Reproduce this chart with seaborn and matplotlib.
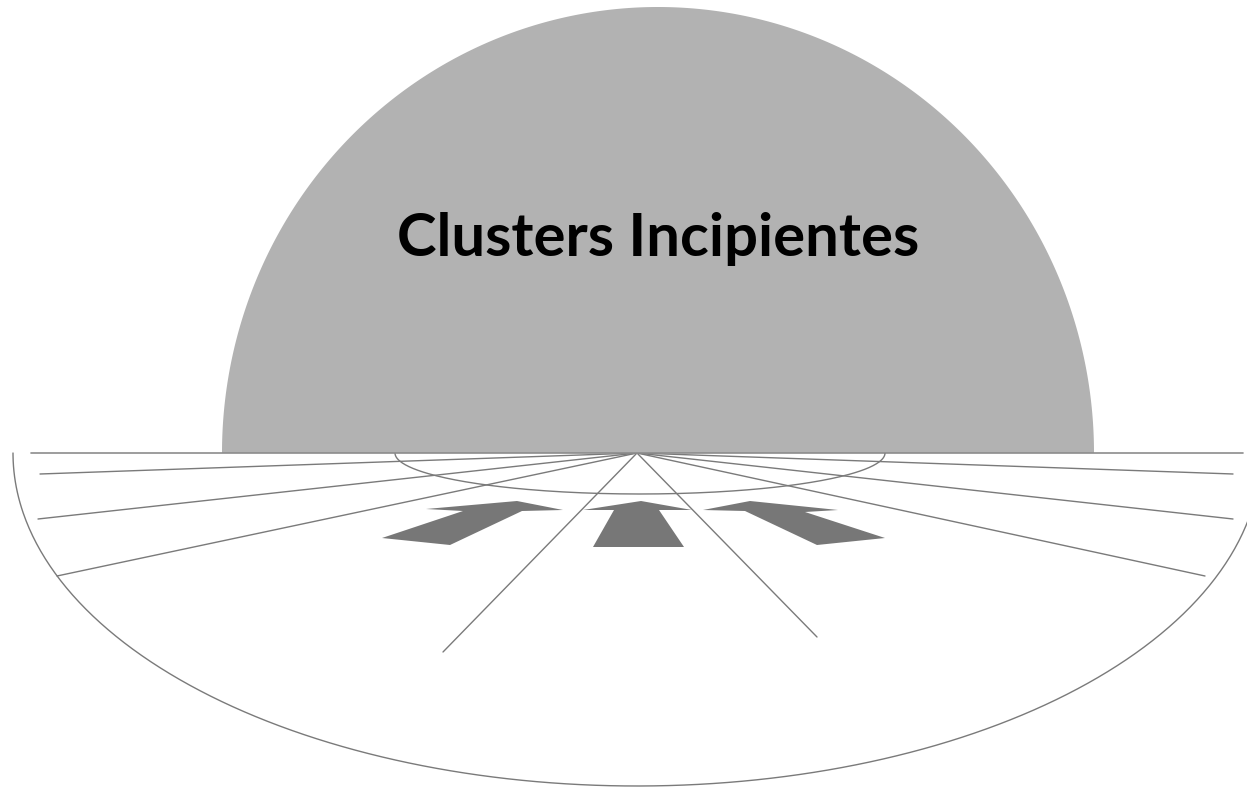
import numpy as np
import pandas as pd
import matplotlib
matplotlib.use("Agg")
import matplotlib.pyplot as plt
import seaborn as sns

sns.set_theme(style="white")
plt.rcParams['font.family'] = ['Lato', 'DejaVu Sans']

# ---------------------------------------------------------------------------
# diagram data (pixel units of the 1247x787 canvas, y grows downward)
# ---------------------------------------------------------------------------
title = "Clusters Incipientes"

apex = (637, 453)
ray_end_x = [40, 38, 57, 443, 817, 1205, 1233, 1233]
ray_end_y = [474, 519, 576, 652, 637, 576, 519, 474]

# dome (upper half ellipse): centre x, baseline y, radii
dome_cx, dome_cy, dome_rx, dome_ry = 658, 453, 436, 446
# small inner ellipse
inner_cx, inner_cy, inner_rx, inner_ry = 640, 453, 245, 41
# big lower arc
outer_cx, outer_cy, outer_rx, outer_ry = 637, 453, 624, 333
# horizon line
horizon_x = [31, 1243]
horizon_y = [453, 453]

# three arrows converging toward the apex
arrow_left_x = [517, 563, 522, 450, 382, 463, 426]
arrow_left_y = [501, 510, 511, 545, 538, 511, 509]
arrow_mid_x = [641, 692, 659, 684, 593, 614, 583]
arrow_mid_y = [501, 510, 510, 547, 547, 510, 510]
arrow_right_x = [750, 838, 805, 885, 817, 745, 703]
arrow_right_y = [501, 510, 512, 538, 545, 511, 510]

line_col = "#7a7a7a"
dome_col = "#b2b2b2"
arrow_col = "#777777"

# ---------------------------------------------------------------------------
fig = plt.figure(figsize=(12.47, 7.87), dpi=100)
ax = fig.add_axes([0, 0, 1, 1])
ax.set_xlim(0, 1247)
ax.set_ylim(787, 0)
ax.axis("off")

# rays from the apex
rays = pd.DataFrame({
    "ray": np.repeat(np.arange(len(ray_end_x)), 2),
    "x": np.ravel([[apex[0], ex] for ex in ray_end_x]),
    "y": np.ravel([[apex[1], ey] for ey in ray_end_y]),
})
sns.lineplot(data=rays, x="x", y="y", units="ray", estimator=None, sort=False,
             color=line_col, lw=1.0, ax=ax, zorder=2)

# inner ellipse
t = np.linspace(0, 2 * np.pi, 400)
ax.plot(inner_cx + inner_rx * np.cos(t), inner_cy + inner_ry * np.sin(t),
        color=line_col, lw=1.0, zorder=2)

# outer lower arc
t = np.linspace(0, np.pi, 400)
ax.plot(outer_cx + outer_rx * np.cos(t), outer_cy + outer_ry * np.sin(t),
        color=line_col, lw=1.0, zorder=2)

# gray dome
t = np.linspace(np.pi, 2 * np.pi, 400)
ax.fill(dome_cx + dome_rx * np.cos(t), dome_cy + dome_ry * np.sin(t),
        color=dome_col, lw=0, zorder=3)

# horizon
ax.plot(horizon_x, horizon_y, color="#8c8c8c", lw=1.2, zorder=4)

# arrows
for xs, ys in [(arrow_left_x, arrow_left_y), (arrow_mid_x, arrow_mid_y),
               (arrow_right_x, arrow_right_y)]:
    ax.fill(xs, ys, color=arrow_col, lw=0, zorder=5)

ax.text(658, 256, title, ha="center", va="baseline", fontsize=43,
        fontweight="bold", color="black", zorder=6)

fig.savefig("out.png", dpi=100)
